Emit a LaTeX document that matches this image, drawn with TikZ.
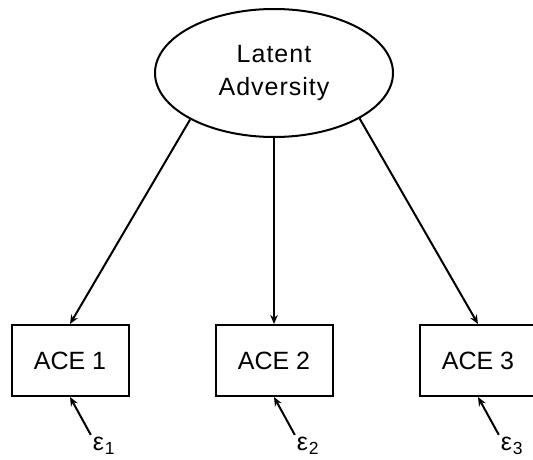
\documentclass[tikz,border=0pt]{standalone}
\usepackage{fontspec}
\setmainfont{Liberation Sans}
\usetikzlibrary{shapes.geometric,arrows.meta}

\begin{document}
\begin{tikzpicture}[->,>={Stealth[length=9pt,width=7.5pt]},x=1pt,y=1pt,line width=2pt,node distance=204pt,
    latent node/.style={ellipse,draw,minimum width=238pt,minimum height=128pt,align=center,font=\fontsize{25}{33}\selectfont\addfontfeature{LetterSpace=4}},
    obs node/.style={rectangle,draw,minimum width=117pt,minimum height=71pt,font=\fontsize{25}{29}\selectfont},
    err node/.style={inner sep=1pt,font=\fontsize{25}{29}\selectfont}]

            \useasboundingbox (0,0) rectangle (533,459);

            \node[latent node] (lat) at (274,386) {Latent\\Adversity};

            \node[obs node] (a2) [below of=lat, yshift=-83.5pt] {ACE 2};
            \node[obs node] (a1) [left of=a2] {ACE 1};
            \node[obs node] (a3) [right of=a2] {ACE 3};

            \node[err node] (e1) [node distance=85pt, below of=a1, xshift=34pt] {ε\kern1pt\textsubscript{1}};
            \node[err node] (e2) [node distance=85pt, below of=a2, xshift=34pt] {ε\kern1pt\textsubscript{2}};
            \node[err node] (e3) [node distance=85pt, below of=a3, xshift=34pt] {ε\kern1pt\textsubscript{3}};

            \path
                (lat.209) edge (a1.north)
                (lat) edge (a2)
                (lat.332) edge (a3.north)

                (e1.north west) edge (a1.south)
                (e2.north west) edge (a2.south)
                (e3.north west) edge (a3.south)
                ;
\end{tikzpicture}
\end{document}
